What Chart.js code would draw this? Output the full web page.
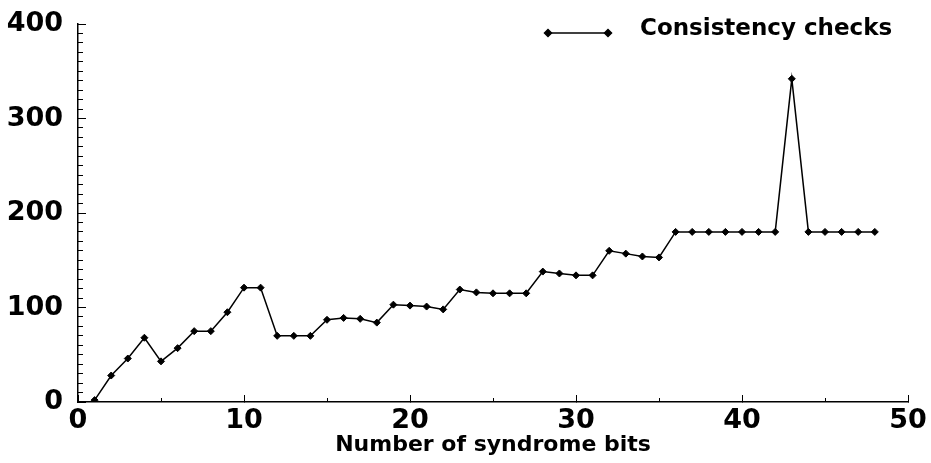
<!DOCTYPE html>
<html>
<head>
<meta charset="utf-8">
<script src="https://cdn.jsdelivr.net/npm/chart.js@4/dist/chart.umd.min.js"></script>
<style>
  html, body { margin: 0; padding: 0; background: #fff; }
  canvas { display: block; }
</style>
</head>
<body>
<canvas id="chart" width="931" height="463"></canvas>
<script>
// Data
const syndromeBits = [1, 2, 3, 4, 5, 6, 7, 8, 9, 10, 11, 12, 13, 14, 15, 16,
    17, 18, 19, 20, 21, 22, 23, 24, 25, 26, 27, 28, 29, 30, 31, 32,
    33, 34, 35, 36, 37, 38, 39, 40, 41, 42, 43, 44, 45, 46, 47, 48];
const consistencyChecks = [2, 28, 46, 68, 43, 57, 75, 75, 95, 121, 121, 70, 70, 70, 87, 89,
    88, 84, 103, 102, 101, 98, 119, 116, 115, 115, 115, 138, 136, 134, 134, 160,
    157, 154, 153, 180, 180, 180, 180, 180, 180, 180, 342, 180, 180, 180, 180, 180];
const xRange = [0, 50];
const yRange = [0, 400];
const seriesLabel = 'Consistency checks';
const xTitle = 'Number of syndrome bits';

const ink = '#000000';
const fontFamily = "'DejaVu Sans', sans-serif";

/**
 * Legend sample: a short line with a marker at each end, then the label
 */
const legendLine = {
    id: 'legendLine',
    afterDraw(chart) {
        const ctx = chart.ctx;
        const area = chart.chartArea;
        const y = 33;
        const x1 = area.right - 360;
        const x2 = area.right - 300;
        ctx.save();
        ctx.strokeStyle = ink;
        ctx.fillStyle = ink;
        ctx.lineWidth = 1.5;
        ctx.beginPath();
        ctx.moveTo(x1, y);
        ctx.lineTo(x2, y);
        ctx.stroke();
        const marker = { pointStyle: 'rectRot', radius: 3.5, borderWidth: 1 };
        Chart.helpers.drawPoint(ctx, marker, x1, y);
        Chart.helpers.drawPoint(ctx, marker, x2, y);
        ctx.font = `bold 23px ${fontFamily}`;
        ctx.textAlign = 'left';
        ctx.textBaseline = 'middle';
        ctx.fillText(seriesLabel, area.right - 268, 29);
        ctx.restore();
    }
};

function tickFont(size) {
    return { family: fontFamily, size: size, weight: 'bold' };
}

// Fix an axis' thickness and drop the extra room it asks for around its end labels
function fixSize(prop, value) {
    return function (scale) {
        scale[prop] = value;
        scale.paddingTop = 0;
        scale.paddingBottom = 0;
        scale.paddingLeft = 0;
        scale.paddingRight = 0;
    };
}

new Chart(document.getElementById('chart'), {
    type: 'line',
    data: {
        datasets: [{
            label: seriesLabel,
            data: syndromeBits.map((b, i) => ({ x: b, y: consistencyChecks[i] })),
            borderColor: ink,
            backgroundColor: ink,
            borderWidth: 1.5,
            pointStyle: 'rectRot',
            pointRadius: 3.5,
            pointBorderWidth: 1,
            tension: 0,
            xAxisID: 'x',
            yAxisID: 'y'
        }]
    },
    options: {
        responsive: false,
        animation: false,
        layout: { padding: { top: 24, right: 23, left: 0, bottom: 0 } },
        plugins: {
            legend: { display: false },
            tooltip: { enabled: false }
        },
        scales: {
            x: {
                type: 'linear',
                position: 'bottom',
                weight: 1,
                min: xRange[0],
                max: xRange[1],
                border: { display: true, color: ink, width: 1.5 },
                grid: { drawOnChartArea: false, drawTicks: true, tickLength: -7, tickColor: ink, tickWidth: 1 },
                ticks: { stepSize: 10, color: ink, font: tickFont(27), padding: 10, maxRotation: 0 },
                title: {
                    display: true,
                    text: xTitle,
                    color: ink,
                    font: tickFont(22),
                    padding: { top: 0, bottom: 5 }
                },
                afterFit: fixSize('height', 61)
            },
            xMinor: {
                type: 'linear',
                position: 'bottom',
                weight: 0,
                min: xRange[0],
                max: xRange[1],
                border: { display: false },
                grid: { drawOnChartArea: false, drawTicks: true, tickLength: -4, tickColor: ink, tickWidth: 1 },
                ticks: { stepSize: 5, display: false },
                afterFit: fixSize('height', 0)
            },
            y: {
                type: 'linear',
                position: 'left',
                weight: 1,
                min: yRange[0],
                max: yRange[1],
                border: { display: true, color: ink, width: 1.5 },
                grid: { drawOnChartArea: false, drawTicks: true, tickLength: -8, tickColor: ink, tickWidth: 1 },
                ticks: { stepSize: 100, color: ink, font: tickFont(27), padding: 23 },
                afterFit: fixSize('width', 78)
            },
            yMinor: {
                type: 'linear',
                position: 'left',
                weight: 0,
                min: yRange[0],
                max: yRange[1],
                border: { display: false },
                grid: { drawOnChartArea: false, drawTicks: true, tickLength: -5, tickColor: ink, tickWidth: 1 },
                ticks: { stepSize: 10, display: false },
                afterFit: fixSize('width', 0)
            }
        }
    },
    plugins: [legendLine]
});
</script>
</body>
</html>
